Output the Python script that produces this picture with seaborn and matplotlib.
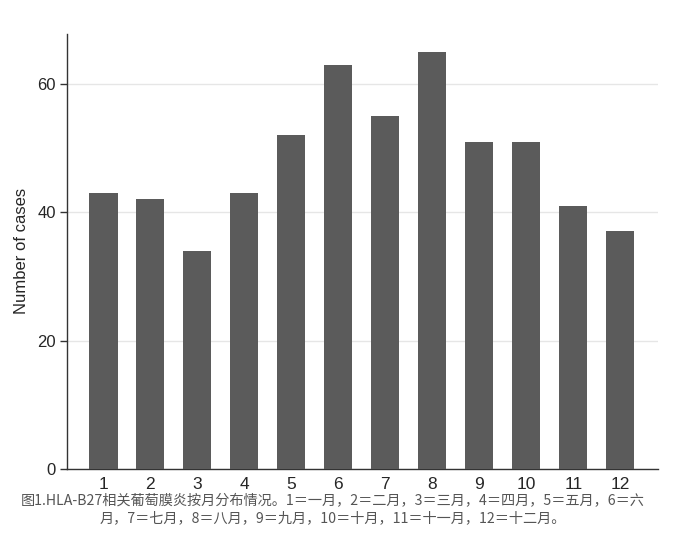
import seaborn as sns
import matplotlib.pyplot as plt
import pandas as pd

# 每月病例数
months = ['1', '2', '3', '4', '5', '6', '7', '8', '9', '10', '11', '12']
cases = [43, 42, 34, 43, 52, 63, 55, 65, 51, 51, 41, 37]
y_ticks = [0, 20, 40, 60]
caption = ('图1.HLA-B27相关葡萄膜炎按月分布情况。1＝一月，2＝二月，3＝三月，4＝四月，5＝五月，6＝六\n'
           '月，7＝七月，8＝八月，9＝九月，10＝十月，11＝十一月，12＝十二月。')

df = pd.DataFrame({'month': months, 'cases': cases})

sns.set_style('white')
plt.rcParams['font.family'] = ['Liberation Sans', 'DejaVu Sans']

fig = plt.figure(figsize=(6.86, 5.36), dpi=100)
ax = fig.add_axes([0.098, 0.125, 0.861, 0.812])

sns.barplot(data=df, x='month', y='cases', color='#5b5b5b', saturation=1,
            width=0.6, linewidth=0, ax=ax, zorder=3)

ax.set_ylim(0, 67.8)
ax.set_xlim(-0.77, 11.8)
ax.set_yticks(y_ticks)
ax.yaxis.grid(True, color='#e6e6e6', linewidth=1, zorder=0)
ax.set_axisbelow(True)

sns.despine(ax=ax, top=True, right=True)
for s in ['left', 'bottom']:
    ax.spines[s].set_color('#333333')
    ax.spines[s].set_linewidth(1)

ax.tick_params(axis='y', length=5, width=1, color='#333333', labelsize=12, pad=3, left=True)
ax.tick_params(axis='x', length=0, labelsize=12.5, pad=6)
ax.set_xlabel('')
ax.set_ylabel('Number of cases', fontsize=12, labelpad=6)

fig.text(0.485, 0.049, caption, ha='center', va='center', fontsize=10.2,
         color='#555555', linespacing=1.3,
         family=['Noto Sans CJK SC', 'DejaVu Sans'])

fig.savefig('out.png', dpi=100, facecolor='white')
